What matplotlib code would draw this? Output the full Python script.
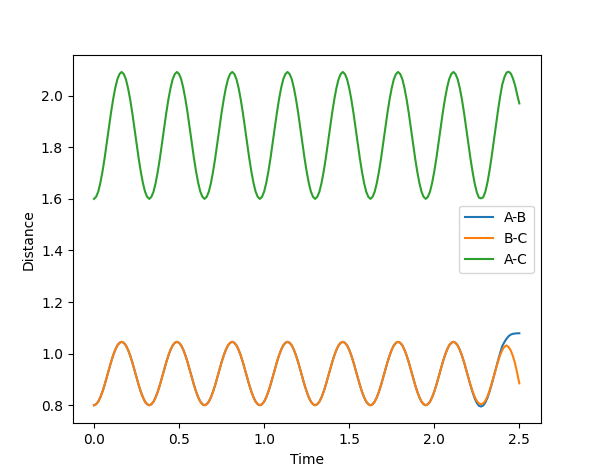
import numpy as np
import matplotlib
matplotlib.use("Agg")
import matplotlib.pyplot as plt

# time samples (0 .. 2.5, step 0.0125)
time = np.linspace(0.0, 2.5, 201)

series_labels = ["A-B", "B-C", "A-C"]

ab = [
    0.800, 0.804, 0.814, 0.831, 0.853, 0.879, 0.908, 0.938, 0.967, 0.993, 1.015, 1.032, 1.042, 1.046, 1.042, 1.032, 1.015, 0.993, 0.967, 0.938, 0.908, 0.879, 0.853, 0.831, 0.814, 0.804,
    0.800, 0.804, 0.814, 0.831, 0.853, 0.879, 0.908, 0.938, 0.967, 0.993, 1.015, 1.032, 1.042, 1.046, 1.042, 1.032, 1.015, 0.993, 0.967, 0.938, 0.908, 0.879, 0.853, 0.831, 0.814, 0.804,
    0.800, 0.804, 0.814, 0.831, 0.853, 0.879, 0.908, 0.938, 0.967, 0.993, 1.015, 1.032, 1.042, 1.046, 1.042, 1.032, 1.015, 0.993, 0.967, 0.938, 0.908, 0.879, 0.853, 0.831, 0.814, 0.804,
    0.800, 0.804, 0.814, 0.831, 0.853, 0.879, 0.908, 0.938, 0.967, 0.993, 1.015, 1.032, 1.042, 1.046, 1.042, 1.032, 1.015, 0.993, 0.967, 0.938, 0.908, 0.879, 0.853, 0.831, 0.814, 0.804,
    0.800, 0.804, 0.814, 0.831, 0.853, 0.879, 0.908, 0.938, 0.967, 0.993, 1.015, 1.032, 1.042, 1.046, 1.042, 1.032, 1.015, 0.993, 0.967, 0.938, 0.908, 0.879, 0.853, 0.831, 0.814, 0.804,
    0.800, 0.804, 0.814, 0.831, 0.853, 0.879, 0.908, 0.938, 0.967, 0.993, 1.015, 1.032, 1.042, 1.046, 1.042, 1.032, 1.015, 0.993, 0.967, 0.938, 0.908, 0.879, 0.853, 0.831, 0.814, 0.804,
    0.800, 0.804, 0.814, 0.831, 0.853, 0.879, 0.908, 0.938, 0.967, 0.993, 1.015, 1.032, 1.042, 1.046, 1.042, 1.032, 1.015, 0.993, 0.967, 0.938,
    0.908, 0.878, 0.851, 0.827, 0.809, 0.798, 0.795, 0.799, 0.810, 0.829, 0.853, 0.881, 0.912, 0.943, 0.974, 1.003, 1.030, 1.045, 1.058, 1.068, 1.074, 1.077, 1.078, 1.079, 1.079,
]

bc = [
    0.800, 0.804, 0.814, 0.831, 0.853, 0.879, 0.908, 0.938, 0.967, 0.993, 1.015, 1.032, 1.042, 1.046, 1.042, 1.032, 1.015, 0.993, 0.967, 0.938, 0.908, 0.879, 0.853, 0.831, 0.814, 0.804,
    0.800, 0.804, 0.814, 0.831, 0.853, 0.879, 0.908, 0.938, 0.967, 0.993, 1.015, 1.032, 1.042, 1.046, 1.042, 1.032, 1.015, 0.993, 0.967, 0.938, 0.908, 0.879, 0.853, 0.831, 0.814, 0.804,
    0.800, 0.804, 0.814, 0.831, 0.853, 0.879, 0.908, 0.938, 0.967, 0.993, 1.015, 1.032, 1.042, 1.046, 1.042, 1.032, 1.015, 0.993, 0.967, 0.938, 0.908, 0.879, 0.853, 0.831, 0.814, 0.804,
    0.800, 0.804, 0.814, 0.831, 0.853, 0.879, 0.908, 0.938, 0.967, 0.993, 1.015, 1.032, 1.042, 1.046, 1.042, 1.032, 1.015, 0.993, 0.967, 0.938, 0.908, 0.879, 0.853, 0.831, 0.814, 0.804,
    0.800, 0.804, 0.814, 0.831, 0.853, 0.879, 0.908, 0.938, 0.967, 0.993, 1.015, 1.032, 1.042, 1.046, 1.042, 1.032, 1.015, 0.993, 0.967, 0.938, 0.908, 0.879, 0.853, 0.831, 0.814, 0.804,
    0.800, 0.804, 0.814, 0.831, 0.853, 0.879, 0.908, 0.938, 0.967, 0.993, 1.015, 1.032, 1.042, 1.046, 1.042, 1.032, 1.015, 0.993, 0.967, 0.938, 0.908, 0.879, 0.853, 0.831, 0.814, 0.804,
    0.800, 0.804, 0.814, 0.831, 0.853, 0.879, 0.908, 0.938, 0.967, 0.993, 1.015, 1.032, 1.042, 1.046, 1.042, 1.032, 1.015, 0.993, 0.967, 0.938,
    0.908, 0.880, 0.855, 0.833, 0.817, 0.807, 0.804, 0.807, 0.817, 0.834, 0.857, 0.884, 0.913, 0.943, 0.970, 0.995, 1.014, 1.027, 1.032, 1.025, 1.012, 0.990, 0.962, 0.925, 0.885,
]

ac = [
    1.600, 1.608, 1.628, 1.662, 1.706, 1.758, 1.816, 1.876, 1.934, 1.986, 2.030, 2.064, 2.084, 2.092, 2.084, 2.064, 2.030, 1.986, 1.934, 1.876, 1.816, 1.758, 1.706, 1.662, 1.628, 1.608,
    1.600, 1.608, 1.628, 1.662, 1.706, 1.758, 1.816, 1.876, 1.934, 1.986, 2.030, 2.064, 2.084, 2.092, 2.084, 2.064, 2.030, 1.986, 1.934, 1.876, 1.816, 1.758, 1.706, 1.662, 1.628, 1.608,
    1.600, 1.608, 1.628, 1.662, 1.706, 1.758, 1.816, 1.876, 1.934, 1.986, 2.030, 2.064, 2.084, 2.092, 2.084, 2.064, 2.030, 1.986, 1.934, 1.876, 1.816, 1.758, 1.706, 1.662, 1.628, 1.608,
    1.600, 1.608, 1.628, 1.662, 1.706, 1.758, 1.816, 1.876, 1.934, 1.986, 2.030, 2.064, 2.084, 2.092, 2.084, 2.064, 2.030, 1.986, 1.934, 1.876, 1.816, 1.758, 1.706, 1.662, 1.628, 1.608,
    1.600, 1.608, 1.628, 1.662, 1.706, 1.758, 1.816, 1.876, 1.934, 1.986, 2.030, 2.064, 2.084, 2.092, 2.084, 2.064, 2.030, 1.986, 1.934, 1.876, 1.816, 1.758, 1.706, 1.662, 1.628, 1.608,
    1.600, 1.608, 1.628, 1.662, 1.706, 1.758, 1.816, 1.876, 1.934, 1.986, 2.030, 2.064, 2.084, 2.092, 2.084, 2.064, 2.030, 1.986, 1.934, 1.876, 1.816, 1.758, 1.706, 1.662, 1.628, 1.608,
    1.600, 1.608, 1.628, 1.662, 1.706, 1.758, 1.816, 1.876, 1.934, 1.986, 2.030, 2.064, 2.084, 2.092, 2.084, 2.064, 2.030, 1.986, 1.934, 1.876,
    1.816, 1.758, 1.706, 1.660, 1.626, 1.605, 1.602, 1.606, 1.627, 1.663, 1.710, 1.765, 1.825, 1.886, 1.944, 1.998, 2.044, 2.072, 2.090, 2.093, 2.086, 2.067, 2.040, 2.004, 1.970,
]

fig = plt.figure(figsize=(5.98, 4.74), dpi=100)
ax = fig.add_subplot(111)
fig.subplots_adjust(left=0.1216, right=0.904, bottom=0.107, top=0.884)

for values, label in zip([ab, bc, ac], series_labels):
    n = min(len(time), len(values))
    ax.plot(time[:n], values[:n], label=label)

ax.set_xlabel("Time")
ax.set_ylabel("Distance")
ax.legend(loc="center right")

fig.savefig("out.png", dpi=100)
